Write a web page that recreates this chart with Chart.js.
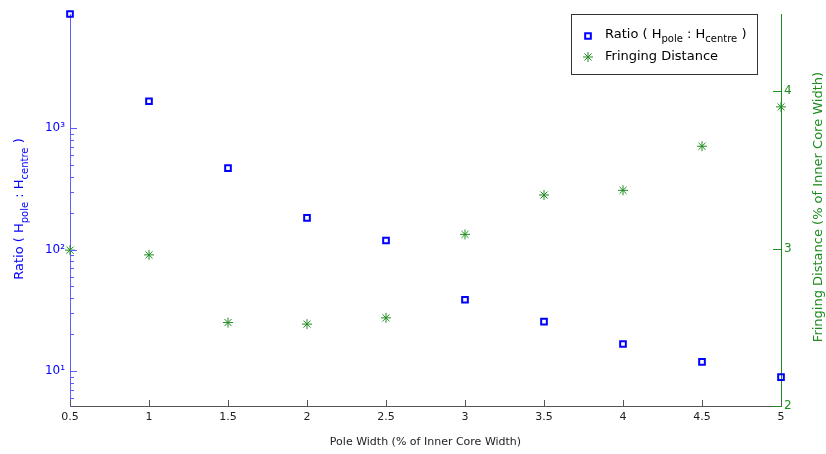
<!DOCTYPE html>
<html>
<head>
<meta charset="utf-8">
<script src="https://cdn.jsdelivr.net/npm/chart.js@4.4.1/dist/chart.umd.min.js"></script>
<style>
  body { margin: 0; background: #fff; }
  #grafico { display: block; }
</style>
</head>
<body>
<canvas id="grafico" width="826" height="454"></canvas>
<script>
// Datos: ancho de polo (% del ancho del nucleo interior)
var anchoPolo = [0.5, 1, 1.5, 2, 2.5, 3, 3.5, 4, 4.5, 5];
// Relacion H_pole : H_centre (eje izquierdo, logaritmico)
var relacionH = [8750, 1670, 470, 183, 119, 38.7, 25.5, 16.7, 11.9, 8.9];
// Distancia de fringing (eje derecho)
var distanciaFringing = [2.99, 2.96, 2.53, 2.52, 2.56, 3.09, 3.34, 3.37, 3.65, 3.90];
// Etiquetas de los ejes
var ticksX = [0.5, 1, 1.5, 2, 2.5, 3, 3.5, 4, 4.5, 5];
var ticksDerecha = [2, 3, 4];
var superindices = { '1': '\u00B9', '2': '\u00B2', '3': '\u00B3', '4': '\u2074' };

var AZUL = '#0000ff';
var AZUL_EJE = '#5c5cff';
var VERDE = '#1e8c1e';
var FUENTE = '"DejaVu Sans", sans-serif';

// dibuja texto con subindices: segmentos [texto, esSub]
function textoConSub(ctx, segmentos, x, y, tam, soloMedir) {
    var cx = x;
    segmentos.forEach(function (s) {
        var t = s[1] ? Math.round(tam * 0.75) : tam;
        ctx.font = t + 'px ' + FUENTE;
        if (!soloMedir) ctx.fillText(s[0], cx, y + (s[1] ? tam * 0.35 : 0));
        cx += ctx.measureText(s[0]).width;
    });
    return cx - x;
}

var segRatio = [['Ratio ( H', false], ['pole', true], [' : H', false], ['centre', true], [' )', false]];

var extras = {
    id: 'extras',
    afterDraw: function (chart) {
        var ctx = chart.ctx;
        var area = chart.chartArea;
        var sx = chart.scales.x, sy = chart.scales.y, sy1 = chart.scales.y1;
        ctx.save();
        ctx.lineWidth = 1;

        // marcas del eje x hacia adentro
        ctx.strokeStyle = '#555';
        ticksX.forEach(function (v) {
            var px = Math.round(sx.getPixelForValue(v)) + 0.5;
            ctx.beginPath(); ctx.moveTo(px, area.bottom); ctx.lineTo(px, area.bottom - 6); ctx.stroke();
        });

        // marcas del eje logaritmico (mayores y menores)
        ctx.strokeStyle = AZUL_EJE;
        sy.ticks.forEach(function (t) {
            var v = t.value;
            if (v > 1000) return;
            var exp = Math.floor(Math.log10(v) + 1e-9);
            var mant = v / Math.pow(10, exp);
            if (Math.abs(mant - Math.round(mant)) > 1e-6) return;
            var largo = Math.round(mant) === 1 ? 7 : 4;
            var py = Math.round(sy.getPixelForValue(v)) + 0.5;
            ctx.beginPath(); ctx.moveTo(area.left, py); ctx.lineTo(area.left + largo, py); ctx.stroke();
        });

        // marcas del eje derecho
        ctx.strokeStyle = VERDE;
        ticksDerecha.forEach(function (v) {
            var py = Math.round(sy1.getPixelForValue(v)) + 0.5;
            ctx.beginPath(); ctx.moveTo(area.right, py); ctx.lineTo(area.right - 8, py); ctx.stroke();
        });

        // titulos de los ejes verticales, rotados
        ctx.textBaseline = 'alphabetic';
        ctx.textAlign = 'left';
        ctx.fillStyle = AZUL;
        ctx.save();
        ctx.translate(23, 0);
        ctx.rotate(-Math.PI / 2);
        var ancho = textoConSub(ctx, segRatio, 0, 0, 13, true);
        textoConSub(ctx, segRatio, -209 - ancho / 2, 0, 13);
        ctx.restore();

        ctx.fillStyle = VERDE;
        ctx.save();
        ctx.translate(822, 207);
        ctx.rotate(-Math.PI / 2);
        ctx.font = '13px ' + FUENTE;
        ctx.textAlign = 'center';
        ctx.fillText('Fringing Distance (% of Inner Core Width)', 0, 0);
        ctx.restore();

        // leyenda
        var lx = 571, ly = 14, lw = 186, lh = 60;
        ctx.fillStyle = '#fff';
        ctx.fillRect(lx, ly, lw, lh);
        ctx.strokeStyle = '#333';
        ctx.strokeRect(lx + 0.5, ly + 0.5, lw, lh);

        ctx.strokeStyle = AZUL;
        ctx.lineWidth = 2;
        Chart.helpers.drawPoint(ctx, { pointStyle: 'rect', radius: 4, borderWidth: 2 }, lx + 17, ly + 22);
        ctx.strokeStyle = VERDE;
        ctx.lineWidth = 1;
        Chart.helpers.drawPoint(ctx, { pointStyle: 'star', radius: 5, borderWidth: 1 }, lx + 17, ly + 43);

        ctx.fillStyle = '#000';
        ctx.textBaseline = 'middle';
        textoConSub(ctx, segRatio, lx + 34, ly + 21, 13);
        ctx.font = '13px ' + FUENTE;
        ctx.fillText('Fringing Distance', lx + 34, ly + 43);
        ctx.restore();
    }
};

var ctx = document.getElementById('grafico').getContext('2d');
Chart.defaults.font.family = FUENTE;
Chart.defaults.font.size = 11;

var grafico = new Chart(ctx, {
    type: 'scatter',
    data: {
        datasets: [{
            label: 'Ratio ( Hpole : Hcentre )',
            data: anchoPolo.map(function (x, i) { return { x: x, y: relacionH[i] }; }),
            yAxisID: 'y',
            pointStyle: 'rect',
            pointRadius: 4,
            pointBorderWidth: 2,
            borderColor: AZUL,
            backgroundColor: 'rgba(0,0,0,0)',
            clip: false
        }, {
            label: 'Fringing Distance',
            data: anchoPolo.map(function (x, i) { return { x: x, y: distanciaFringing[i] }; }),
            yAxisID: 'y1',
            pointStyle: 'star',
            pointRadius: 5,
            pointBorderWidth: 1,
            borderColor: VERDE,
            backgroundColor: VERDE,
            clip: false
        }]
    },
    options: {
        responsive: false,
        animation: false,
        layout: { padding: { top: 14, left: 0, right: 0, bottom: 0 } },
        plugins: {
            legend: { display: false },
            tooltip: { enabled: false }
        },
        scales: {
            x: {
                type: 'linear',
                min: 0.5,
                max: 5,
                afterFit: function (s) { s.height = 48; },
                afterBuildTicks: function (s) { s.ticks = ticksX.map(function (v) { return { value: v }; }); },
                grid: { display: false, drawTicks: false },
                border: { display: true, color: '#555', width: 1 },
                ticks: { color: '#222', padding: 5, font: { size: 11 }, callback: function (v) { return String(v); } },
                title: { display: true, text: 'Pole Width (% of Inner Core Width)', color: '#222', font: { size: 11 }, padding: { top: 0, bottom: 5 } }
            },
            y: {
                type: 'logarithmic',
                position: 'left',
                min: 5.15,
                max: 8750,
                afterFit: function (s) { s.width = 70; },
                grid: { display: false, drawTicks: false },
                border: { display: true, color: AZUL_EJE, width: 1 },
                ticks: {
                    autoSkip: false,
                    color: AZUL,
                    padding: 5,
                    font: { size: 12 },
                    callback: function (v) {
                        var e = Math.log10(v);
                        if (Math.abs(e - Math.round(e)) < 1e-9 && v >= 10 && v <= 1000) {
                            return '10' + superindices[String(Math.round(e))];
                        }
                        return '';
                    }
                }
            },
            y1: {
                type: 'linear',
                position: 'right',
                min: 2,
                max: 4.49,
                afterFit: function (s) { s.width = 45; },
                afterBuildTicks: function (s) { s.ticks = ticksDerecha.map(function (v) { return { value: v }; }); },
                grid: { display: false, drawTicks: false },
                border: { display: true, color: VERDE, width: 1 },
                ticks: { color: VERDE, padding: 3, font: { size: 12 } }
            }
        }
    },
    plugins: [extras]
});
</script>
</body>
</html>
